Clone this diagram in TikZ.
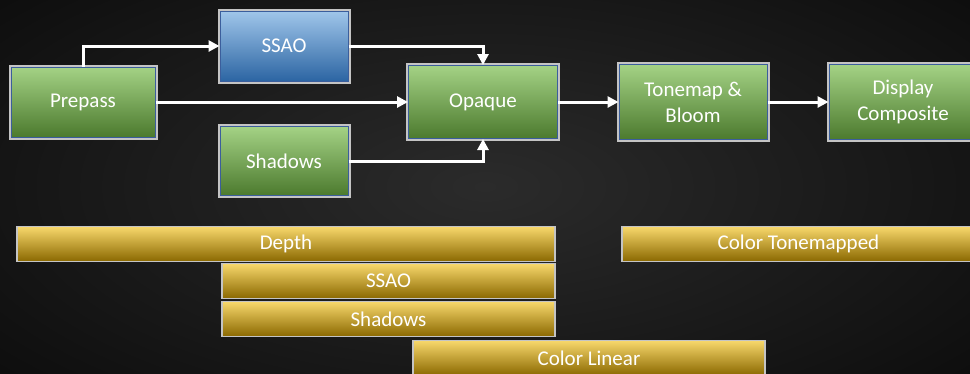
\documentclass[tikz,border=0pt]{standalone}
\usepackage{fontspec}
\setmainfont{Carlito}
\usetikzlibrary{arrows.meta}
\usetikzlibrary{positioning}

\definecolor{bgin}{HTML}{2B2B2B}
\definecolor{bgout}{HTML}{0E0E0E}
\definecolor{grtop}{HTML}{A4D285}
\definecolor{grmid}{HTML}{72AE48}
\definecolor{grbot}{HTML}{4C7A2E}
\definecolor{bltop}{HTML}{A0C6EA}
\definecolor{blmid}{HTML}{5B9BD5}
\definecolor{blbot}{HTML}{2C65A3}
\definecolor{gdtop}{HTML}{F8D86C}
\definecolor{gdmid}{HTML}{C39400}
\definecolor{gdbot}{HTML}{8A6800}
\definecolor{rim}{HTML}{3B5E9C}
\definecolor{glow}{HTML}{C4C4C4}

\begin{document}
\begin{tikzpicture}[x=1pt,y=-1pt,
  pass/.style={rectangle,inner sep=0pt,draw=rim,line width=1pt,
    preaction={draw=glow,line width=5pt},
    top color=grtop,middle color=grmid,bottom color=grbot,
    text=white,align=center,font=\fontsize{21}{26}\selectfont},
  bluepass/.style={pass,top color=bltop,middle color=blmid,bottom color=blbot},
  target/.style={rectangle,inner sep=0pt,draw=glow,line width=1.2pt,
    top color=gdtop,middle color=gdmid,bottom color=gdbot,
    minimum height=35pt,text=white,font=\fontsize{21}{26}\selectfont},
  flow/.style={draw=white,line width=3pt,-{Triangle[length=11pt,width=11pt]}}]

% background
\useasboundingbox (0,0) rectangle (970,373);
\shade[inner color=bgin,outer color=bgout] (-150,-100) rectangle (1120,473);

% passes
\node[pass,minimum width=144pt,minimum height=70pt] (prepass) at (83,102) {Prepass};
\node[bluepass,minimum width=128pt,minimum height=70pt] (ssao) at (284,46) {SSAO};
\node[pass,minimum width=128pt,minimum height=69pt] (shadows) at (284,161) {Shadows};
\node[pass,minimum width=149pt,minimum height=73pt] (opaque) at (483,102) {Opaque};
\node[pass,minimum width=148pt,minimum height=75pt] (tonemap) at (693,102) {Tonemap \&\\Bloom};
\node[pass,minimum width=148pt,minimum height=75pt] (display) at (903,102) {Display\\Composite};

\draw[flow] (prepass.north) |- (ssao.west);
\draw[flow] (prepass.east) -- (opaque.west);
\draw[flow] (ssao.east) -| (opaque.north);
\draw[flow] (shadows.east) -| (opaque.south);
\draw[flow] (opaque.east) -- (tonemap.west);
\draw[flow] (tonemap.east) -- (display.west);

% render targets
\node[target,minimum width=538pt] (depth) at (286,244) {Depth};
\node[target,minimum width=333pt] (ssao rt) at (388.5,281) {SSAO};
\node[target,minimum width=333pt] (shadows rt) at (388.5,319) {Shadows};
\node[target,minimum width=352pt] (linear) at (589,358) {Color Linear};
\node[target,minimum width=353pt] (tonemapped) at (798.5,244) {Color Tonemapped};
\end{tikzpicture}
\end{document}
